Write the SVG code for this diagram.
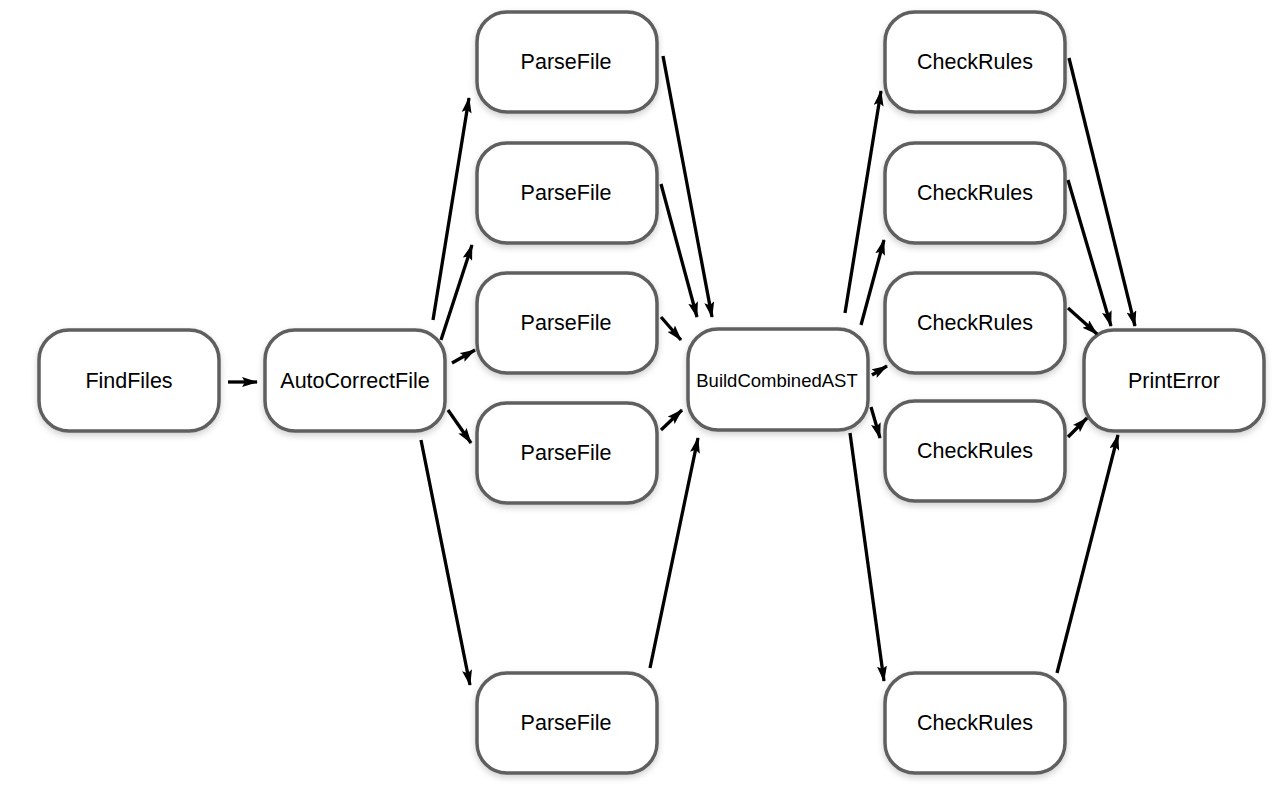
<svg xmlns="http://www.w3.org/2000/svg" width="1280" height="800" viewBox="0 0 1280 800">
<style>
.node rect{fill:#fff;stroke:#5f5f5f;stroke-width:3.5;filter:url(#sh)}
.node text{font-family:"Liberation Sans",Arial,sans-serif;font-size:21.5px;fill:#000;text-anchor:middle;dominant-baseline:central}
.edges line{stroke:#000;stroke-width:3.3;marker-end:url(#ah)}
</style>
<defs>
<filter id="sh" x="-20%" y="-20%" width="140%" height="150%">
<feDropShadow dx="0" dy="3" stdDeviation="3" flood-color="#000" flood-opacity="0.18"/>
</filter>
<marker id="ah" viewBox="0 0 16 10" refX="15" refY="5" markerWidth="16" markerHeight="10" markerUnits="userSpaceOnUse" orient="auto">
<path d="M0,0 L16,5 L0,10 L3,5 Z" fill="#000"/>
</marker>
</defs>
<rect width="1280" height="800" fill="#fff"/>
<g id="n-findfiles" class="node"><rect x="39" y="330" width="180" height="101" rx="30"/><text x="129" y="381">FindFiles</text></g>
<g id="n-autocorrect" class="node"><rect x="265" y="330" width="180" height="101" rx="30"/><text x="355" y="381">AutoCorrectFile</text></g>
<g id="n-parse1" class="node"><rect x="477" y="12" width="180" height="100" rx="30"/><text x="566" y="62">ParseFile</text></g>
<g id="n-parse2" class="node"><rect x="477" y="143" width="180" height="100" rx="30"/><text x="566" y="193">ParseFile</text></g>
<g id="n-parse3" class="node"><rect x="477" y="273" width="180" height="100" rx="30"/><text x="566" y="323">ParseFile</text></g>
<g id="n-parse4" class="node"><rect x="477" y="403" width="180" height="100" rx="30"/><text x="566" y="453">ParseFile</text></g>
<g id="n-parse5" class="node"><rect x="477" y="673" width="180" height="100" rx="30"/><text x="566" y="723">ParseFile</text></g>
<g id="n-build" class="node"><rect x="688" y="329" width="180" height="101" rx="30"/><text x="777" y="380" style="font-size:18.5px">BuildCombinedAST</text></g>
<g id="n-check1" class="node"><rect x="885" y="12" width="180" height="100" rx="30"/><text x="975" y="62">CheckRules</text></g>
<g id="n-check2" class="node"><rect x="885" y="143" width="180" height="100" rx="30"/><text x="975" y="193">CheckRules</text></g>
<g id="n-check3" class="node"><rect x="885" y="273" width="180" height="100" rx="30"/><text x="975" y="323">CheckRules</text></g>
<g id="n-check4" class="node"><rect x="885" y="401" width="180" height="100" rx="30"/><text x="975" y="451">CheckRules</text></g>
<g id="n-check5" class="node"><rect x="885" y="673" width="180" height="100" rx="30"/><text x="975" y="723">CheckRules</text></g>
<g id="n-print" class="node"><rect x="1084" y="330" width="180" height="101" rx="30"/><text x="1174" y="381">PrintError</text></g>
<g id="edges" class="edges">
<line x1="228" y1="382" x2="257" y2="382"/>
<line x1="433" y1="320" x2="469" y2="98"/>
<line x1="441" y1="340" x2="472" y2="245"/>
<line x1="452" y1="363" x2="475" y2="350"/>
<line x1="448" y1="410" x2="471" y2="443"/>
<line x1="421" y1="440" x2="470" y2="685"/>
<line x1="663" y1="56" x2="712" y2="317"/>
<line x1="661" y1="184" x2="697" y2="317"/>
<line x1="661" y1="317" x2="681" y2="340"/>
<line x1="661" y1="430" x2="682" y2="410"/>
<line x1="650" y1="668" x2="698" y2="438"/>
<line x1="845" y1="313" x2="881" y2="91"/>
<line x1="861" y1="325" x2="884" y2="240"/>
<line x1="872" y1="375" x2="887" y2="366"/>
<line x1="871" y1="407" x2="880" y2="438"/>
<line x1="850" y1="433" x2="884" y2="681"/>
<line x1="1069" y1="58" x2="1135" y2="326"/>
<line x1="1068" y1="180" x2="1111" y2="326"/>
<line x1="1068" y1="308" x2="1097" y2="334"/>
<line x1="1068" y1="437" x2="1087" y2="418"/>
<line x1="1057" y1="673" x2="1118" y2="435"/>
</g>
</svg>
